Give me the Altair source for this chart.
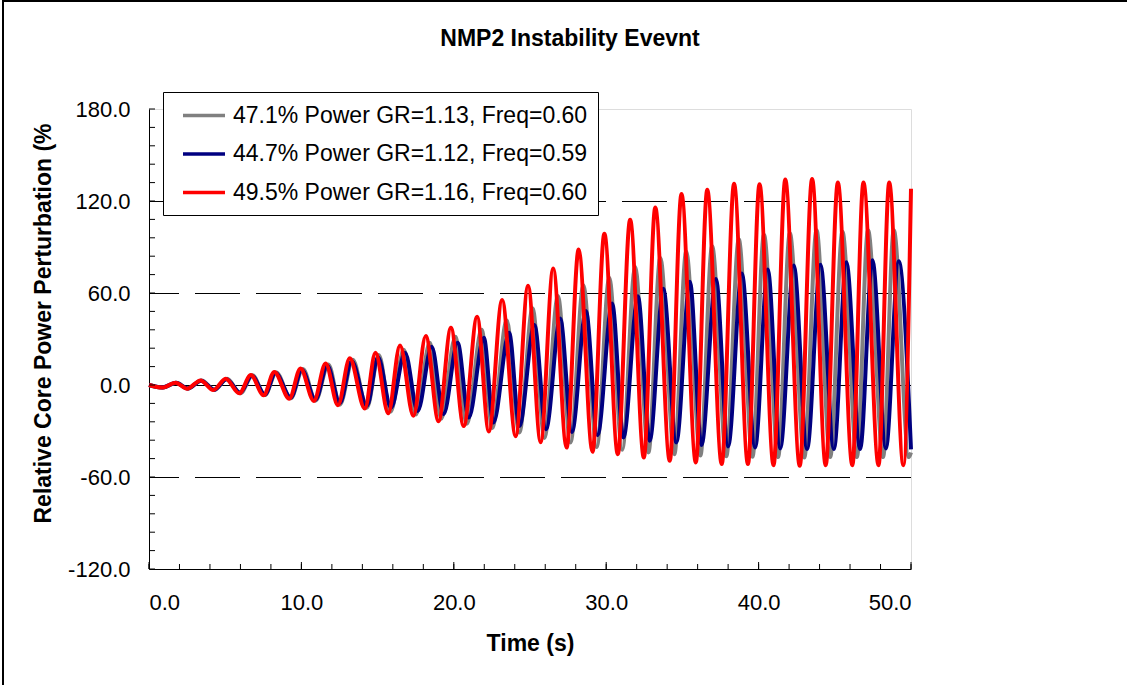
import altair as alt
import pandas as pd

# ---------------- data ----------------
series_names = [
    "47.1% Power GR=1.13, Freq=0.60",
    "44.7% Power GR=1.12, Freq=0.59",
    "49.5% Power GR=1.16, Freq=0.60",
]
series_colors = ["#808080", "#000080", "#FF0000"]

# gray: 47.1% power
gray_peak_t = [1.8, 3.45, 5.12, 6.8, 8.35, 10.1, 11.77, 13.37, 15.08, 16.72, 18.43, 20.1, 21.83, 23.47,
               25.17, 26.83, 28.5, 30.2, 31.9, 33.55, 35.25, 36.95, 38.7, 40.35, 42.05, 43.8, 45.5, 47.18, 48.87]
gray_peak_v = [1.4, 2.9, 4.0, 6.3, 8.2, 10.4, 13.4, 16.4, 19.6, 23.0, 27.5, 31.5, 36.0, 42.0,
               50.0, 58.0, 65.0, 70.0, 77.0, 83.0, 87.0, 90.5, 95.0, 98.0, 99.0, 101.0, 100.0, 101.0, 101.0]
gray_trough_t = [0.9, 2.55, 4.3, 6.0, 7.6, 9.3, 10.93, 12.53, 14.3, 15.85, 17.52, 19.18, 20.85, 22.52, 24.3,
                 25.95, 27.66, 29.38, 31.05, 32.77, 34.47, 36.18, 37.88, 39.6, 41.28, 43.0, 44.7, 46.45, 48.17, 49.86]
gray_trough_v = [-1.7, -2.4, -3.2, -5.3, -6.6, -8.7, -10.2, -12.8, -14.8, -17.5, -19.2, -22.0, -25.2, -28.0, -31.0,
                 -34.5, -37.5, -40.5, -42.3, -44.0, -45.2, -46.0, -46.5, -46.8, -47.0, -47.3, -47.0, -47.0, -47.0, -47.0]
gray_ends_t = [0.0, 50.0]
gray_ends_v = [0.0, -44.0]

# blue: 44.7% power
blue_peak_t = [1.76, 3.42, 5.08, 6.75, 8.3, 10.03, 11.7, 13.3, 15.03, 16.8, 18.55, 20.25, 21.97, 23.63,
               25.29, 26.98, 28.67, 30.39, 32.08, 33.75, 35.49, 37.2, 38.9, 40.6, 42.31, 44.06, 45.76, 47.47, 49.19]
blue_peak_v = [1.4, 2.8, 3.8, 6.0, 7.8, 9.8, 12.5, 15.5, 18.0, 21.0, 25.0, 27.5, 30.8, 34.1,
               39.2, 43.4, 48.2, 53.2, 57.9, 62.7, 67.3, 69.2, 72.7, 75.3, 77.9, 78.5, 80.0, 81.3, 80.7]
blue_trough_t = [0.88, 2.55, 4.28, 5.98, 7.6, 9.3, 10.92, 12.52, 14.3, 15.88, 17.63, 19.33, 20.98, 22.6, 24.3,
                 26.05, 27.75, 29.43, 31.13, 32.85, 34.6, 36.25, 38.0, 39.77, 41.42, 43.18, 44.94, 46.66, 48.35, 50.0]
blue_trough_v = [-1.6, -2.3, -3.1, -5.0, -6.2, -8.2, -9.6, -11.8, -13.5, -14.7, -16.9, -19.0, -21.2, -24.5, -26.7,
                 -28.8, -30.6, -32.7, -34.2, -36.4, -37.5, -39.2, -40.1, -40.8, -41.4, -41.8, -41.8, -41.8, -41.4, -42.0]
blue_ends_t = [0.0]
blue_ends_v = [0.0]

# red: 49.5% power
red_peak_t = [1.74, 3.38, 5.03, 6.68, 8.22, 9.94, 11.59, 13.17, 14.86, 16.47, 18.16, 19.81, 21.53, 23.17,
              24.87, 26.52, 28.19, 29.88, 31.57, 33.22, 34.94, 36.63, 38.39, 40.06, 41.75, 43.51, 45.2, 46.88, 48.57]
red_peak_v = [1.5, 3.0, 4.1, 6.5, 8.5, 10.8, 14.1, 17.4, 21.0, 25.8, 31.9, 37.3, 44.5, 55.5,
              64.8, 76.0, 88.3, 98.7, 107.8, 115.8, 124.5, 127.3, 131.2, 131.0, 134.0, 134.4, 132.0, 132.0, 132.0]
red_trough_t = [0.86, 2.5, 4.22, 5.92, 7.52, 9.21, 10.82, 12.4, 14.16, 15.7, 17.35, 19.0, 20.65, 22.3, 24.06,
                25.7, 27.4, 29.1, 30.76, 32.47, 34.17, 35.88, 37.58, 39.3, 40.98, 42.7, 44.4, 46.15, 47.87, 49.5]
red_trough_v = [-1.7, -2.4, -3.3, -5.4, -6.7, -8.9, -10.4, -13.2, -15.4, -18.4, -20.1, -23.6, -26.8, -30.3, -33.4,
                -37.3, -40.8, -43.6, -45.1, -47.3, -49.4, -50.5, -51.6, -51.6, -52.3, -52.7, -52.3, -52.3, -52.3, -52.3]
red_ends_t = [0.0, 50.0]
red_ends_v = [0.0, 128.0]

y_tick_values = [-120, -60, 0, 60, 120, 180]
x_tick_values = [0, 10, 20, 30, 40, 50]
y_minor_ticks = list(range(-120, 181, 12))
x_minor_ticks = list(range(0, 51, 2))
x_major_ticks = [0, 10, 20, 30, 40, 50]
dashed_grid = [120, 60, -60]
zero_line = [0]

# ---------------- build tables ----------------
rows = []
for name, pt, pv, tt, tv, et, ev in [
    (series_names[0], gray_peak_t, gray_peak_v, gray_trough_t, gray_trough_v, gray_ends_t, gray_ends_v),
    (series_names[1], blue_peak_t, blue_peak_v, blue_trough_t, blue_trough_v, blue_ends_t, blue_ends_v),
    (series_names[2], red_peak_t, red_peak_v, red_trough_t, red_trough_v, red_ends_t, red_ends_v),
]:
    pts = sorted(list(zip(pt, pv)) + list(zip(tt, tv)) + list(zip(et, ev)))
    for t, v in pts:
        rows.append({"series": name, "t": t, "v": v})
df = pd.DataFrame(rows)

FONT = "Liberation Sans"
W, H = 762, 460

x_scale = alt.Scale(domain=[0, 50], nice=False, zero=False)
y_scale = alt.Scale(domain=[-120, 180], nice=False, zero=False)

x_axis = alt.Axis(values=x_tick_values, format=".1f", tickSize=0, grid=False,
                  domainColor="black", domainWidth=1,
                  labelFont=FONT, labelFontSize=22, labelColor="black", labelPadding=23,
                  title="Time (s)", titleFont=FONT, titleFontSize=23, titleFontWeight="bold",
                  titleColor="black", titleY=74, titleBaseline="middle")
y_axis = alt.Axis(values=y_tick_values, tickSize=0, grid=False,
                  labelExpr="(datum.value < 0 ? '-' : '') + format(abs(datum.value), '.1f')",
                  domainColor="black", domainWidth=1,
                  labelFont=FONT, labelFontSize=22, labelColor="black", labelPadding=19,
                  title="Relative Core Power Perturbation (%", titleFont=FONT, titleFontSize=23,
                  titleFontWeight="bold", titleColor="black", titleX=-106, titleY=214,
                  titleAngle=270, titleBaseline="middle", titleAlign="center")

X = alt.X("t:Q", scale=x_scale, axis=x_axis)
Y = alt.Y("v:Q", scale=y_scale, axis=y_axis)

color = alt.Color("series:N", scale=alt.Scale(domain=series_names, range=series_colors),
                  legend=alt.Legend(title=None, orient="none", legendX=14, legendY=-17,
                                    symbolType="M-0.304,0H3.348", symbolSize=529,
                                    symbolStrokeWidth=3.5, symbolFillColor="transparent",
                                    labelFont=FONT, labelFontSize=23, labelColor="black",
                                    labelLimit=0, labelOffset=33, rowPadding=12.5, padding=10,
                                    strokeColor="black", fillColor="white", cornerRadius=0))

base = alt.Chart(df)
lines = [
    base.transform_filter(alt.datum.series == n)
    .mark_line(strokeWidth=4, strokeJoin="round", interpolate="monotone")
    .encode(x=X, y=Y, color=color)
    for n in series_names
]

grid = alt.Chart(pd.DataFrame({"v": dashed_grid})).mark_rule(
    color="black", strokeWidth=1, strokeDash=[45, 16], yOffset=0.5).encode(y=Y)
zero = alt.Chart(pd.DataFrame({"v": zero_line})).mark_rule(
    color="black", strokeWidth=1, yOffset=0.5).encode(y=Y)
yticks = alt.Chart(pd.DataFrame({"v": y_minor_ticks})).mark_rule(color="black", strokeWidth=1).encode(
    y=Y, x=alt.value(0), x2=alt.value(6))
xticks = alt.Chart(pd.DataFrame({"t": x_minor_ticks})).mark_rule(color="black", strokeWidth=1).encode(
    x=X, y=alt.value(H), y2=alt.value(H - 5))
xmajor = alt.Chart(pd.DataFrame({"t": x_major_ticks})).mark_rule(color="black", strokeWidth=1).encode(
    x=X, y=alt.value(H), y2=alt.value(H - 7))
frame_top = alt.Chart(pd.DataFrame({"t": [0]})).mark_rule(color="black", strokeWidth=2).encode(
    x=alt.value(-147), x2=alt.value(980), y=alt.value(-108))
frame_left = alt.Chart(pd.DataFrame({"t": [0]})).mark_rule(color="black", strokeWidth=2).encode(
    x=alt.value(-146), y=alt.value(-109), y2=alt.value(580))

chart = alt.layer(grid, zero, *lines, yticks, xticks, xmajor, frame_top, frame_left).properties(
    width=W, height=H,
    title=alt.TitleParams("NMP2 Instability Evevnt", font=FONT, fontSize=23, fontWeight="bold",
                          color="black", anchor="middle", dx=40, offset=-52),
    autosize=alt.AutoSizeParams(type="none"),
    padding={"left": 149, "top": 109, "right": 216, "bottom": 116},
).configure_view(stroke="#808080", strokeWidth=1).configure(background="white")

chart.save("out.html", embed_options={"renderer": "svg", "actions": False})
